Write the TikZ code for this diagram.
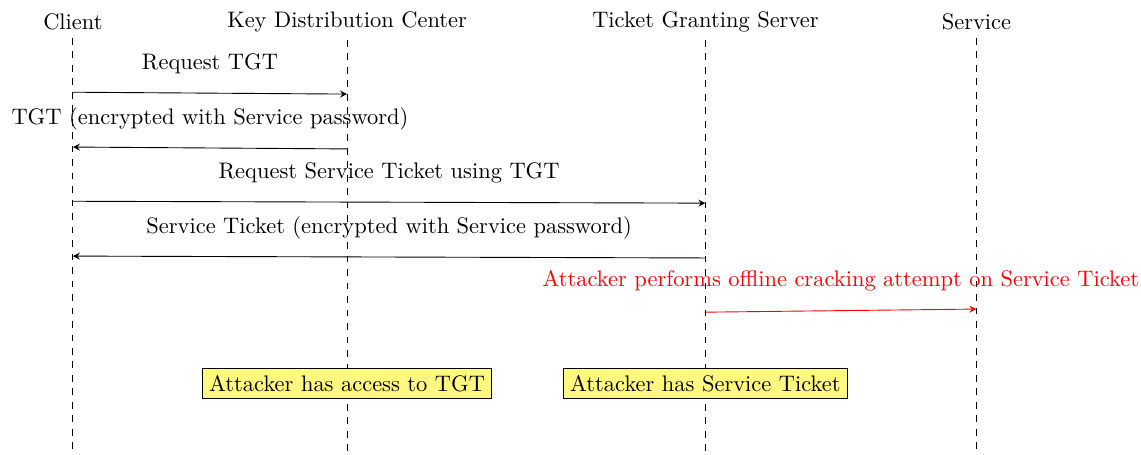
\documentclass[tikz,border=0pt]{standalone}
\usepackage{tikz}
\usetikzlibrary{positioning}
\tikzset{
    actor/.style={inner sep=3.33pt},
    lifeline/.style={dashed},
    msg/.style={-stealth},
    attack/.style={-stealth, red},
    msglabel/.style={midway, yshift=13.1pt},
    note/.style={rectangle, draw, fill=yellow!50, inner sep=3pt}
}
\begin{document}
\begin{tikzpicture}[scale=0.9747]
\useasboundingbox (0,0) rectangle (18.31,-7.30);

% Actors
\node[actor] (client) at (1.17,-0.35) {Client};
\node[actor] (kdc) at (5.57,-0.35) {Key Distribution Center};
\node[actor] (tgs) at (11.32,-0.35) {Ticket Granting Server};
\node[actor] (service) at (15.67,-0.35) {Service};

% Lifelines
\coordinate (clientend) at (1.17,-7.30);
\coordinate (kdcend) at (5.57,-7.30);
\coordinate (tgsend) at (11.32,-7.30);
\coordinate (serviceend) at (15.67,-7.30);
\draw[lifeline] (client.south) -- (clientend);
\draw[lifeline] (kdc.south) -- (kdcend);
\draw[lifeline] (tgs.south) -- (tgsend);
\draw[lifeline] (service.south) -- (serviceend);

% Message end points
\coordinate (c1) at (1.17,-1.48);
\coordinate (k1) at (5.57,-1.51);
\coordinate (k2) at (5.57,-2.39);
\coordinate (c2) at (1.17,-2.36);
\coordinate (c3) at (1.17,-3.23);
\coordinate (t3) at (11.32,-3.26);
\coordinate (t4) at (11.32,-4.14);
\coordinate (c4) at (1.17,-4.11);
\coordinate (t5) at (11.32,-5.01);
\coordinate (s5) at (15.67,-4.96);

% Messages
\draw[msg] (c1) -- node[msglabel] {Request TGT} (k1);
\draw[msg] (k2) -- node[msglabel] {TGT (encrypted with Service password)} (c2);
\draw[msg] (c3) -- node[msglabel] {Request Service Ticket using TGT} (t3);
\draw[msg] (t4) -- node[msglabel] {Service Ticket (encrypted with Service password)} (c4);
\draw[attack] (t5) -- node[msglabel] {Attacker performs offline cracking attempt on Service Ticket} (s5);

% Attacker notes
\node[note] (tgtnote) at (5.57,-6.15) {Attacker has access to TGT};
\node[note] (ticketnote) at (11.32,-6.15) {Attacker has Service Ticket};
\end{tikzpicture}
\end{document}
